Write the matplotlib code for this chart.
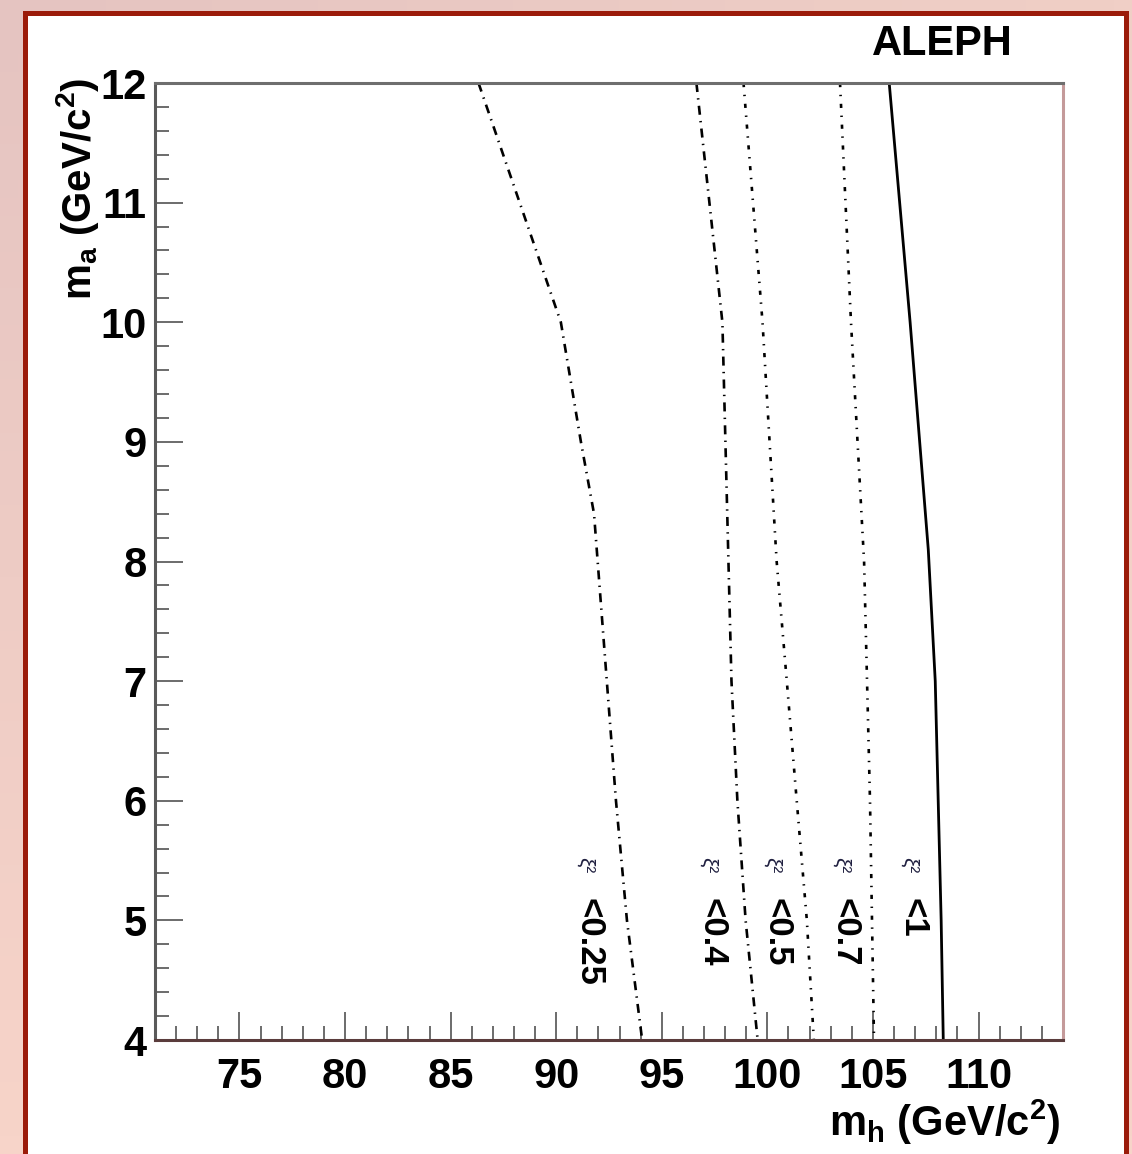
# ALEPH 排除曲线重绘：m_a 对 m_h 平面上不同 ξ² 上限的等值线
import numpy as np
import matplotlib
matplotlib.use('Agg')
import matplotlib.pyplot as plt
from matplotlib.patches import Rectangle

plt.rcParams['font.family'] = ['Liberation Sans', 'DejaVu Sans']
plt.rcParams['font.weight'] = 'bold'
plt.rcParams['mathtext.default'] = 'regular'
plt.rcParams['lines.scale_dashes'] = False

# 曲线数据
ma_025 = [12, 10, 9, 8.4, 6, 5, 4]
mh_025 = [86.32, 90.22, 91.17, 91.79, 92.83, 93.35, 94.07]

ma_04 = [12, 10, 7, 6, 5, 4]
mh_04 = [96.64, 97.87, 98.30, 98.58, 98.97, 99.54]

ma_05 = [12, 10, 8, 7, 6, 5, 4]
mh_05 = [98.87, 99.77, 100.44, 100.92, 101.39, 101.87, 102.20]

ma_07 = [12, 10, 8, 6, 4]
mh_07 = [103.44, 103.96, 104.58, 104.86, 105.05]

ma_1 = [12, 10, 8.1, 7, 5, 4]
mh_1 = [105.77, 106.76, 107.62, 107.95, 108.23, 108.33]

# 曲线标注
label_text = ['<0.25', '<0.4', '<0.5', '<0.7', '<1']
label_x = [91.55, 97.40, 100.44, 103.67, 106.91]

x_ticks = [75, 80, 85, 90, 95, 100, 105, 110]
y_ticks = [4, 5, 6, 7, 8, 9, 10, 11, 12]

W, H = 1132, 1154
fig = plt.figure(figsize=(W / 100, H / 100), dpi=100)

# 背景渐变 + 红色边框
bg = fig.add_axes([0, 0, 1, 1])
bg.set_axis_off()
tl = np.array([229, 196, 193]) / 255
tr = np.array([240, 207, 198]) / 255
bl = np.array([247, 212, 201]) / 255
br = np.array([247, 212, 201]) / 255
u = np.linspace(0, 1, 64)[None, :, None]
v = np.linspace(0, 1, 64)[:, None, None]
grad = (1 - v) * ((1 - u) * tl + u * tr) + v * ((1 - u) * bl + u * br)
bg.imshow(grad, extent=[0, 1, 0, 1], aspect='auto', origin='upper')
bg.set_xlim(0, 1)
bg.set_ylim(0, 1)
bg.add_patch(Rectangle((24.5 / W, -0.02), (1125.5 - 24.5) / W, 1.02 - 12.5 / H,
                       facecolor='white', edgecolor='#9b1b0a', linewidth=3.6))

ax = fig.add_axes([155 / W, (H - 1040) / H, 908 / W, 957 / H])
ax.set_xlim(71, 114)
ax.set_ylim(4, 12)

ax.plot(mh_025, ma_025, color='black', lw=1.9, dashes=(6.5, 4.5, 1, 4.5))
ax.plot(mh_04, ma_04, color='black', lw=1.9, dashes=(6.5, 4.5, 1, 4.5))
ax.plot(mh_05, ma_05, color='black', lw=1.9, dashes=(3, 5.5, 1, 5.5))
ax.plot(mh_07, ma_07, color='black', lw=1.9, dashes=(3, 5.5, 1, 5.5))
ax.plot(mh_1, ma_1, color='black', lw=2.0)

for txt, xl in zip(label_text, label_x):
    ax.text(xl - 0.2, 5.53, 'ξ²', rotation=-90, ha='center', va='top',
            fontsize=15, fontweight='normal', color='#202040')
    ax.text(xl, 5.19, txt, rotation=-90, ha='center', va='top',
            fontsize=25, fontweight='bold')

ax.set_xticks(x_ticks)
ax.set_xticks(np.arange(72, 114, 1), minor=True)
ax.set_yticks(y_ticks)
ax.set_yticks(np.arange(4, 12.01, 0.2), minor=True)
ax.tick_params(which='both', direction='in', top=False, right=False,
               color='#444444', width=1.1, labelsize=30)
ax.tick_params(which='major', length=20)
ax.tick_params(which='minor', length=10)
ax.tick_params(axis='x', pad=12)
ax.tick_params(axis='y', pad=6)
for lab in ax.get_xticklabels() + ax.get_yticklabels():
    lab.set_fontweight('bold')

ax.spines['left'].set_color('#5a5a5a')
ax.spines['top'].set_color('#6e6e6e')
ax.spines['bottom'].set_color('#5a3c3c')
ax.spines['right'].set_color('#c49a9a')
for s in ax.spines.values():
    s.set_linewidth(2.2)

fig.text(1060 / W, 1 - 1136 / H, 'm$_h$ (GeV/c$^2$)', ha='right', va='baseline',
         fontsize=30, fontweight='bold')
fig.text(101 / W, 1 - 78 / H, 'm$_a$ (GeV/c$^2$)', rotation=90, ha='right', va='top',
         fontsize=29, fontweight='bold')
fig.text(942 / W, 1 - 44 / H, 'ALEPH', ha='center', va='center',
         fontsize=30, fontweight='bold')

fig.savefig('out.png', dpi=100)
